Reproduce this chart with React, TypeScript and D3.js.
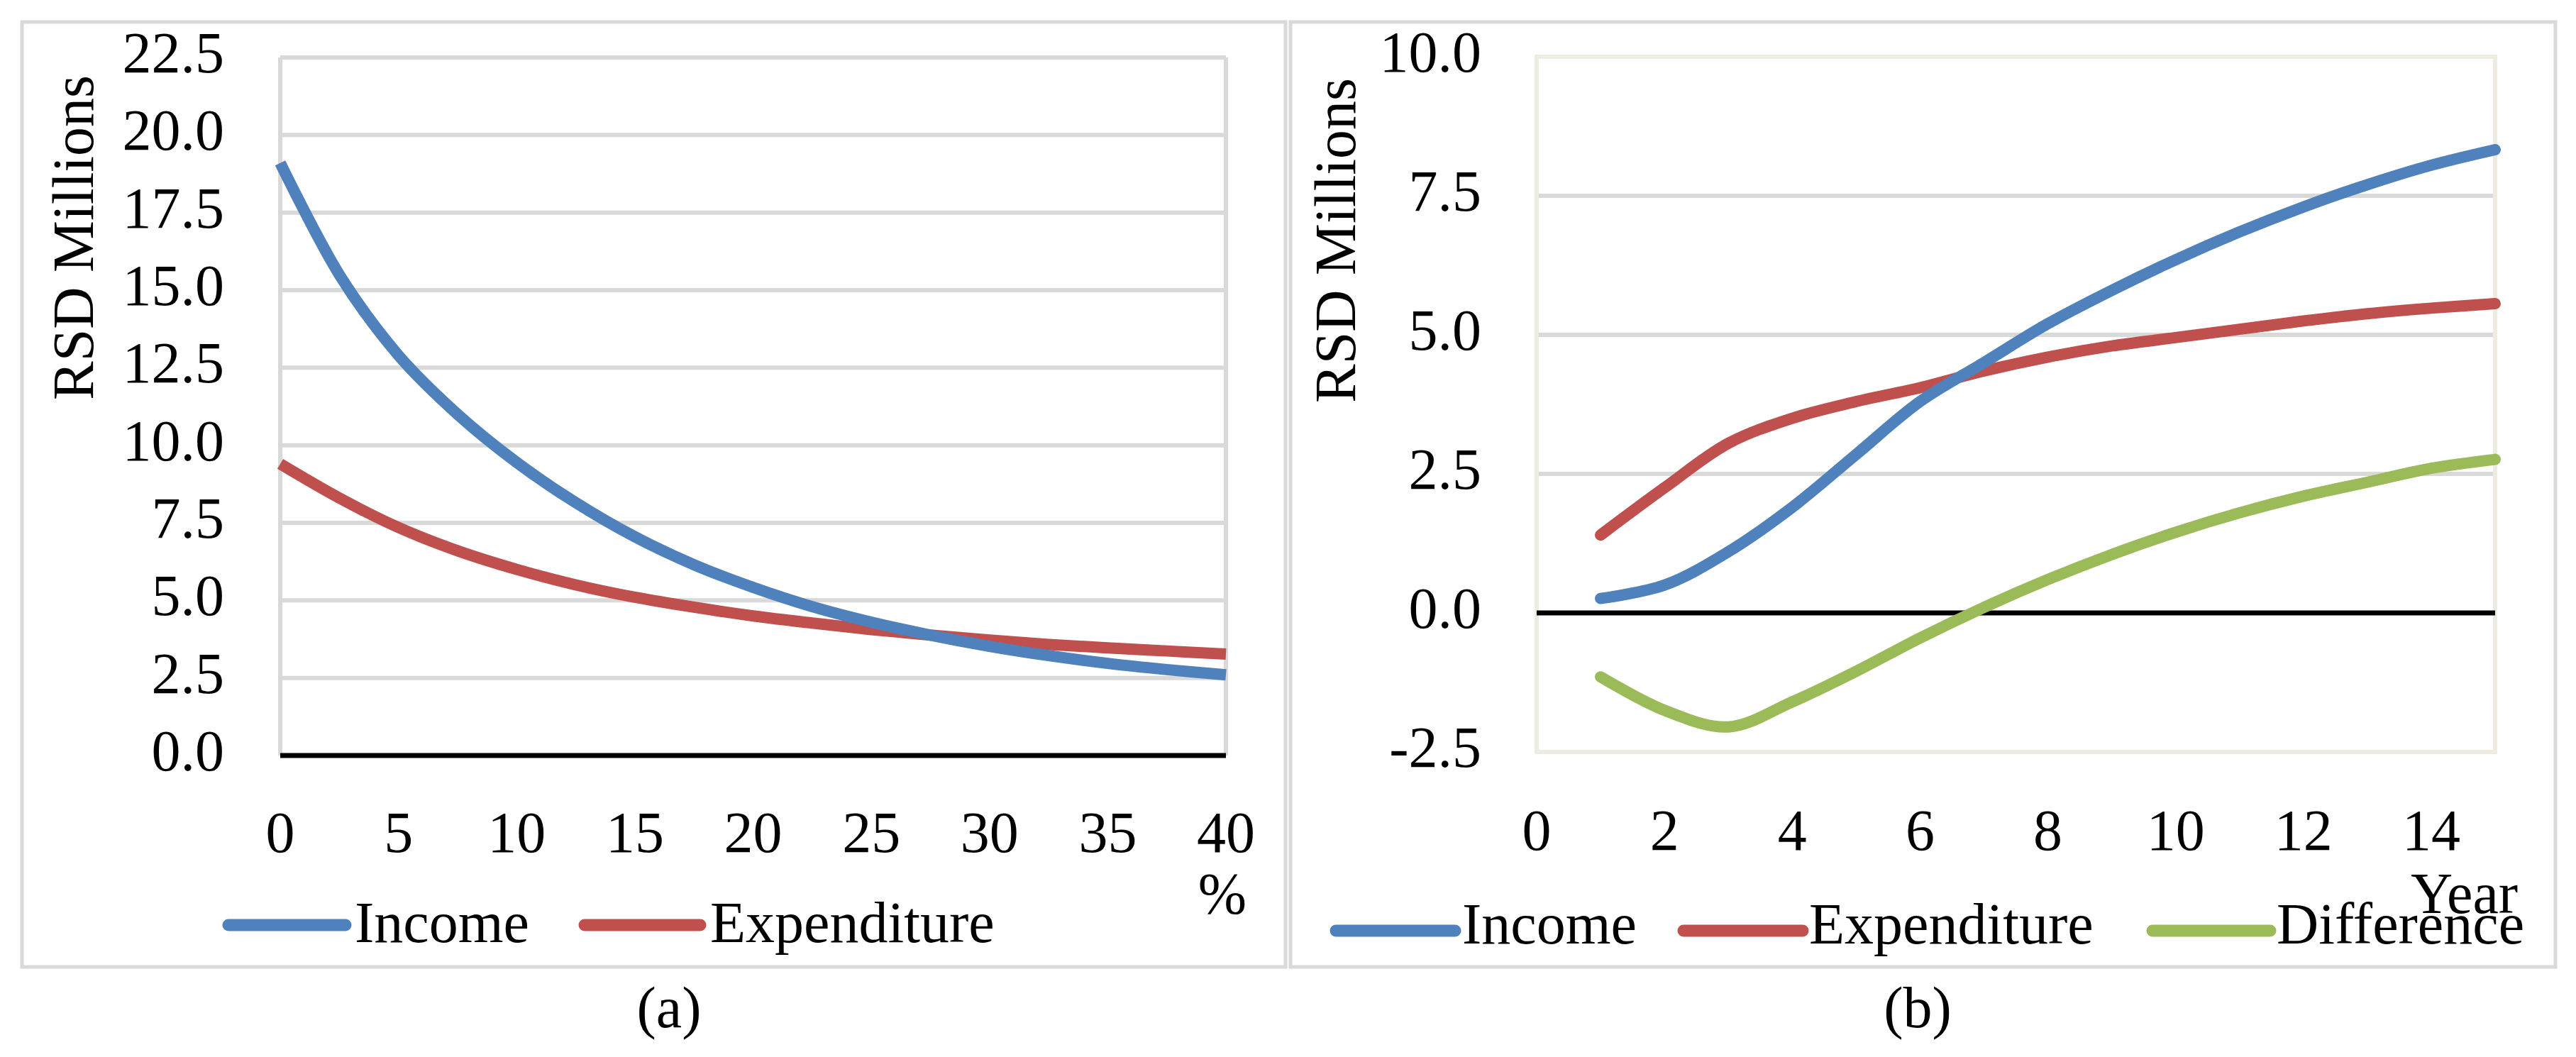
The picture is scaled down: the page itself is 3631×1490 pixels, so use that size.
import React from "react";
import * as d3 from "d3";

// ---- Panel (a) data ----
const rates = [0, 2.5, 5, 7.5, 10, 12.5, 15, 17.5, 20, 22.5, 25, 27.5, 30, 32.5, 35, 37.5, 40];
const incomeA = [19.1, 15.5, 12.9, 11.0, 9.45, 8.15, 7.05, 6.15, 5.42, 4.8, 4.3, 3.88, 3.52, 3.22, 2.97, 2.77, 2.6];
const expenditureA = [9.4, 8.3, 7.35, 6.6, 6.0, 5.5, 5.1, 4.78, 4.5, 4.27, 4.06, 3.88, 3.72, 3.58, 3.47, 3.37, 3.27];
const yTicksA = [0, 2.5, 5, 7.5, 10, 12.5, 15, 17.5, 20, 22.5];
const xTicksA = [0, 5, 10, 15, 20, 25, 30, 35, 40];

// ---- Panel (b) data ----
const years = [1, 2, 3, 4, 5, 6, 7, 8, 9, 10, 11, 12, 13, 14, 15];
const incomeB = [0.26, 0.5, 1.1, 1.9, 2.85, 3.8, 4.5, 5.2, 5.8, 6.35, 6.85, 7.3, 7.7, 8.05, 8.33];
const expenditureB = [1.4, 2.25, 3.05, 3.5, 3.8, 4.05, 4.35, 4.6, 4.8, 4.95, 5.1, 5.25, 5.38, 5.48, 5.56];
const differenceB = [-1.15, -1.75, -2.05, -1.6, -1.05, -0.45, 0.1, 0.6, 1.05, 1.45, 1.8, 2.1, 2.35, 2.6, 2.76];
const yTicksB = [-2.5, 0, 2.5, 5, 7.5, 10];
const xTicksB = [0, 2, 4, 6, 8, 10, 12, 14];

const BLUE = "#4F81BD";
const RED = "#C0504D";
const GREEN = "#9BBB59";
const GRID = "#D9D9D9";
const BEIGE = "#EEECE1";
const FONT = "'Liberation Serif', 'DejaVu Serif', serif";
const FS = 82;

export default function App() {
  const xA = d3.scaleLinear().domain([0, 40]).range([395, 1728]);
  const yA = d3.scaleLinear().domain([0, 22.5]).range([1065, 81]);
  const xB = d3.scaleLinear().domain([0, 15]).range([2166, 3517]);
  const yB = d3.scaleLinear().domain([-2.5, 10]).range([1060, 80]);

  const lineA = (vals: number[]) =>
    d3
      .line<number>()
      .x((_, i) => xA(rates[i]))
      .y((v) => yA(v))
      .curve(d3.curveCatmullRom.alpha(0.5))(vals) as string;
  const lineB = (vals: number[]) =>
    d3
      .line<number>()
      .x((_, i) => xB(years[i]))
      .y((v) => yB(v))
      .curve(d3.curveCatmullRom.alpha(0.5))(vals) as string;

  const fmt = (v: number) => d3.format(".1f")(v).replace("\u2212", "-");

  return (
    <svg
      width={3631}
      height={1490}
      style={{ position: "absolute", left: 0, top: 0, background: "#fff" }}
      fontFamily={FONT}
    >
      <rect x={0} y={0} width={3631} height={1490} fill="#fff" />
      {/* outer boxes */}
      <rect x={31} y={31} width={1781} height={1332} fill="none" stroke={GRID} strokeWidth={5} />
      <rect x={1819} y={31} width={1783} height={1332} fill="none" stroke={GRID} strokeWidth={5} />

      {/* ===== Panel (a) ===== */}
      {yTicksA.filter((t) => t > 0).map((t) => (
        <line key={"ga" + t} x1={xA(0)} x2={xA(40)} y1={yA(t)} y2={yA(t)} stroke={GRID} strokeWidth={6} />
      ))}
      <line x1={xA(0)} x2={xA(0)} y1={yA(22.5)} y2={yA(0)} stroke={GRID} strokeWidth={6} />
      <line x1={xA(40)} x2={xA(40)} y1={yA(22.5)} y2={yA(0)} stroke={GRID} strokeWidth={6} />
      <line x1={xA(0)} x2={xA(40)} y1={yA(0)} y2={yA(0)} stroke="#000" strokeWidth={7} />
      <path d={lineA(expenditureA)} fill="none" stroke={RED} strokeWidth={16} strokeLinejoin="round" />
      <path d={lineA(incomeA)} fill="none" stroke={BLUE} strokeWidth={16} strokeLinejoin="round" />
      {yTicksA.map((t) => (
        <text key={"ya" + t} x={316} y={yA(t) + 21} fontSize={FS} textAnchor="end">
          {fmt(t)}
        </text>
      ))}
      {xTicksA.map((t) => (
        <text key={"xa" + t} x={xA(t)} y={1201} fontSize={FS} textAnchor="middle">
          {t}
        </text>
      ))}
      <text x={1723} y={1287} fontSize={FS} textAnchor="middle">%</text>
      <text transform="translate(131,335) rotate(-90)" fontSize={FS} textAnchor="middle">
        RSD Millions
      </text>
      {/* legend a */}
      <line x1={322} x2={487} y1={1304} y2={1304} stroke={BLUE} strokeWidth={17} strokeLinecap="round" />
      <text x={500} y={1328} fontSize={FS}>Income</text>
      <line x1={824} x2={987} y1={1304} y2={1304} stroke={RED} strokeWidth={17} strokeLinecap="round" />
      <text x={1001} y={1328} fontSize={FS}>Expenditure</text>
      <text x={943} y={1448} fontSize={FS} textAnchor="middle">(a)</text>

      {/* ===== Panel (b) ===== */}
      {yTicksB.filter((t) => t > 0 && t < 10).map((t) => (
        <line key={"gb" + t} x1={xB(0)} x2={xB(15)} y1={yB(t)} y2={yB(t)} stroke={GRID} strokeWidth={6} />
      ))}
      <rect x={xB(0)} y={yB(10)} width={xB(15) - xB(0)} height={yB(-2.5) - yB(10)} fill="none" stroke={BEIGE} strokeWidth={6} />
      <line x1={xB(0)} x2={xB(15)} y1={yB(0)} y2={yB(0)} stroke="#000" strokeWidth={7} />
      <path d={lineB(differenceB)} fill="none" stroke={GREEN} strokeWidth={16} strokeLinecap="round" strokeLinejoin="round" />
      <path d={lineB(expenditureB)} fill="none" stroke={RED} strokeWidth={16} strokeLinecap="round" strokeLinejoin="round" />
      <path d={lineB(incomeB)} fill="none" stroke={BLUE} strokeWidth={16} strokeLinecap="round" strokeLinejoin="round" />
      {yTicksB.map((t) => (
        <text key={"yb" + t} x={2088} y={yB(t) + 21} fontSize={FS} textAnchor="end">
          {fmt(t)}
        </text>
      ))}
      {xTicksB.map((t) => (
        <text key={"xb" + t} x={xB(t)} y={1198} fontSize={FS} textAnchor="middle">
          {t}
        </text>
      ))}
      <text x={3398} y={1287} fontSize={FS}>Year</text>
      <text transform="translate(1910,339) rotate(-90)" fontSize={FS} textAnchor="middle">
        RSD Millions
      </text>
      {/* legend b */}
      <line x1={1883} x2={2051} y1={1312} y2={1312} stroke={BLUE} strokeWidth={17} strokeLinecap="round" />
      <text x={2061} y={1330} fontSize={FS}>Income</text>
      <line x1={2373} x2={2541} y1={1312} y2={1312} stroke={RED} strokeWidth={17} strokeLinecap="round" />
      <text x={2550} y={1330} fontSize={FS}>Expenditure</text>
      <line x1={3034} x2={3200} y1={1312} y2={1312} stroke={GREEN} strokeWidth={17} strokeLinecap="round" />
      <text x={3209} y={1330} fontSize={FS}>Difference</text>
      <text x={2703} y={1448} fontSize={FS} textAnchor="middle">(b)</text>
    </svg>
  );
}
